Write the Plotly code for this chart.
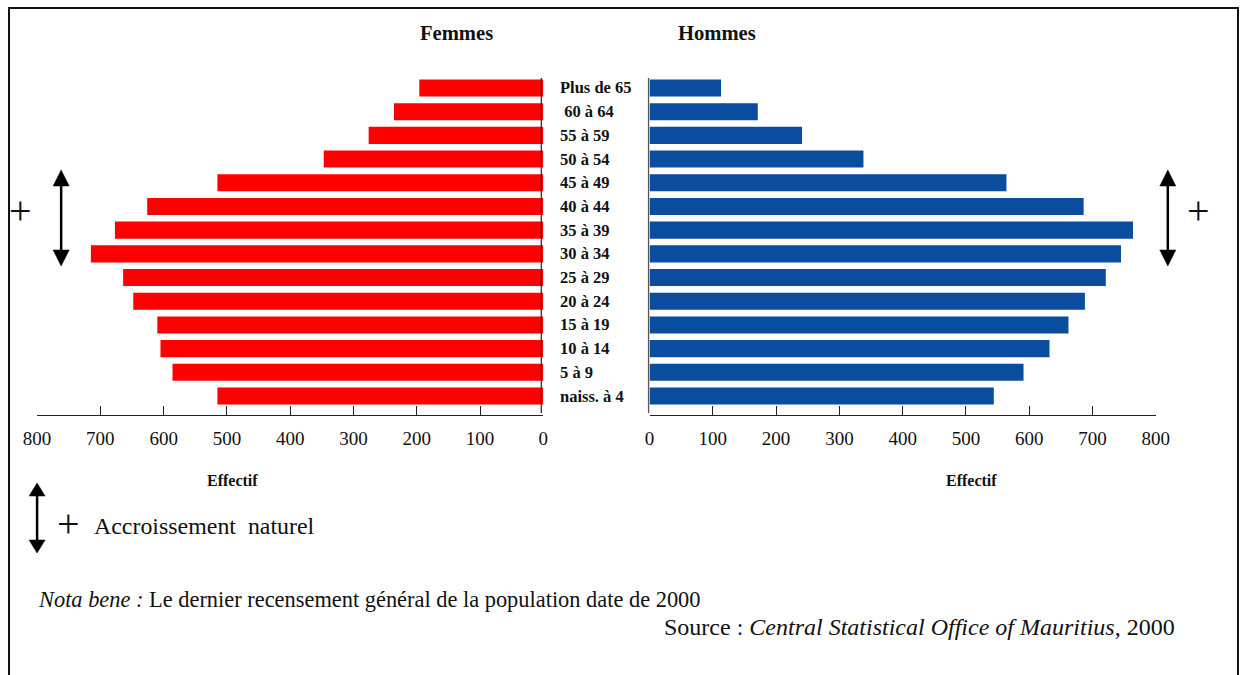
import plotly.graph_objects as go

W, H = 1242, 675

# ---- data ----
ages = ["naiss. à 4", "5 à 9", "10 à 14", "15 à 19", "20 à 24", "25 à 29",
        "30 à 34", "35 à 39", "40 à 44", "45 à 49", "50 à 54", "55 à 59",
        "\u00a060 à 64", "Plus de 65"]
femmes = [515, 586, 605, 610, 648, 664, 715, 677, 626, 515, 347, 276, 236, 196]
hommes = [544, 591, 632, 662, 688, 721, 745, 764, 686, 564, 338, 241, 171, 113]
tick_vals = [0, 100, 200, 300, 400, 500, 600, 700, 800]

RED = "#FF0000"
BLUE = "#0A4C9E"
SERIF = "Liberation Serif, Times New Roman, serif"


def X(px):
    return px / W


def Y(py):
    return 1 - py / H


fig = go.Figure()
fig.add_trace(go.Bar(y=ages, x=femmes, orientation="h", marker_color=RED,
                     marker_line_width=0, xaxis="x", yaxis="y", name="Femmes"))
fig.add_trace(go.Bar(y=ages, x=hommes, orientation="h", marker_color=BLUE,
                     marker_line_width=0, xaxis="x2", yaxis="y", name="Hommes"))

axis_common = dict(
    tickvals=tick_vals, ticks="inside", ticklen=9, tickwidth=1.3,
    tickcolor="#222", showline=True, linecolor="#222", linewidth=1.3,
    showgrid=False, zeroline=False, anchor="free", position=Y(415),
    tickfont=dict(family=SERIF, size=19, color="#111"),
    ticklabelstandoff=6, fixedrange=True,
)

fig.update_layout(
    width=1273, height=H,
    margin=dict(l=0, r=0, t=0, b=0),
    paper_bgcolor="white", plot_bgcolor="white",
    showlegend=False, bargap=0.28,
    xaxis=dict(domain=[X(38), X(543)], range=[800, 0], **axis_common),
    xaxis2=dict(domain=[X(649), X(1154)], range=[0, 800], **axis_common),
    yaxis=dict(domain=[Y(407.85), Y(76.15)], categoryorder="array",
               categoryarray=ages, visible=False, anchor="x",
               range=[-0.5, len(ages) - 0.5]),
)

shapes = []
ann = []

# frame
shapes.append(dict(type="rect", xref="paper", yref="paper",
                   x0=X(10), x1=X(1236), y0=-0.05, y1=Y(8),
                   line=dict(color="#111", width=2)))
# vertical axis lines at the centre
shapes.append(dict(type="line", xref="paper", yref="paper",
                   x0=X(541), x1=X(541), y0=Y(413), y1=Y(78),
                   line=dict(color="#333", width=1.3)))
shapes.append(dict(type="line", xref="paper", yref="paper",
                   x0=X(648), x1=X(648), y0=Y(413), y1=Y(78),
                   line=dict(color="#555", width=1.3)))


def double_arrow(cx, ytop, ybot, head_w, head_h, lw):
    shapes.append(dict(type="line", xref="paper", yref="paper",
                       x0=X(cx), x1=X(cx), y0=Y(ytop + head_h - 2),
                       y1=Y(ybot - head_h + 2),
                       line=dict(color="black", width=lw)))
    hw = head_w / 2
    top = f"M {X(cx)} {Y(ytop)} L {X(cx - hw)} {Y(ytop + head_h)} L {X(cx + hw)} {Y(ytop + head_h)} Z"
    bot = f"M {X(cx)} {Y(ybot)} L {X(cx - hw)} {Y(ybot - head_h)} L {X(cx + hw)} {Y(ybot - head_h)} Z"
    for p in (top, bot):
        shapes.append(dict(type="path", xref="paper", yref="paper", path=p,
                           fillcolor="black", line=dict(color="black", width=0.5)))


double_arrow(62, 170, 266, 16, 16, 2.5)
double_arrow(1166, 170, 266, 16, 16, 2.5)
double_arrow(38, 483, 553, 16, 13, 2.5)


def text(x, y, s, size, bold=False, xanchor="left", yanchor="middle",
         color="#111"):
    ann.append(dict(x=X(x), y=Y(y), xref="paper", yref="paper", text=s,
                    showarrow=False, xanchor=xanchor, yanchor=yanchor,
                    font=dict(family=SERIF, size=size, color=color,
                              weight="bold" if bold else "normal")))


# plus signs
text(21, 210, "+", 40, xanchor="center")
text(1197, 210, "+", 40, xanchor="center")
text(69, 523, "+", 40, xanchor="center")

# headings
text(456, 33, "Femmes", 20.6, bold=True, xanchor="center")
text(716, 33, "Hommes", 20.6, bold=True, xanchor="center")
text(233, 480, "Effectif", 16, bold=True, xanchor="center")
text(970, 480, "Effectif", 16, bold=True, xanchor="center")

# age labels
for a in ages:
    ann.append(dict(x=X(558), y=a, xref="paper", yref="y", text=a,
                    showarrow=False, xanchor="left", yanchor="middle",
                    font=dict(family=SERIF, size=16.5, color="#111",
                              weight="bold")))

text(93, 526, "Accroissement&nbsp; naturel", 23.9)
text(37, 599, "<i>Nota bene :</i> Le dernier recensement général de la population date de 2000", 22.4)
text(661, 627, "Source : <i>Central Statistical Office of Mauritius</i>, 2000", 24)

fig.update_layout(shapes=shapes, annotations=ann)
fig.write_html("out.html",
               config={"displayModeBar": False},
               post_script="document.body.style.margin='0';"
                           "document.body.style.overflow='hidden';"
                           "document.body.style.marginLeft='-15px';")
